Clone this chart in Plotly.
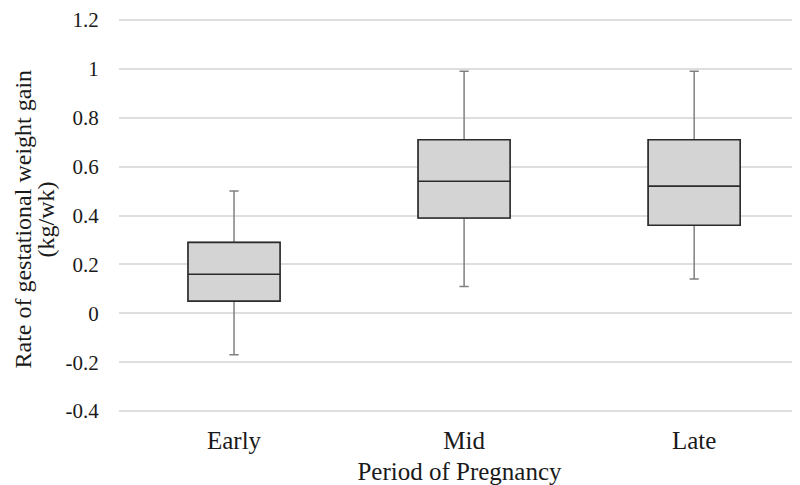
import plotly.graph_objects as go

categories = ["Early", "Mid", "Late"]
lower_whisker = [-0.17, 0.11, 0.14]
q1 = [0.05, 0.39, 0.36]
median = [0.16, 0.54, 0.52]
q3 = [0.29, 0.71, 0.71]
upper_whisker = [0.50, 0.99, 0.99]
y_ticks = [-0.4, -0.2, 0, 0.2, 0.4, 0.6, 0.8, 1, 1.2]
y_tick_text = ["-0.4", "-0.2", "0", "0.2", "0.4", "0.6", "0.8", "1", "1.2"]
y_title_lines = ["Rate of gestational weight gain", "(kg/wk)"]
x_title = "Period of Pregnancy"

FONT = "Liberation Serif, Times New Roman, serif"
TEXT = "#1a1a1a"

fig = go.Figure()
# whiskers (gray)
fig.add_trace(go.Box(
    x=categories, q1=q1, median=median, q3=q3,
    lowerfence=lower_whisker, upperfence=upper_whisker,
    width=0.4, whiskerwidth=0.1,
    fillcolor="#d4d4d4", line=dict(color="#808080", width=1.5),
    boxpoints=False, showlegend=False, hoverinfo="skip",
))
# boxes (dark outline)
fig.add_trace(go.Box(
    x=categories, q1=q1, median=median, q3=q3,
    lowerfence=q1, upperfence=q3,
    width=0.4, whiskerwidth=0,
    fillcolor="#d4d4d4", line=dict(color="#2b2b2b", width=1.6),
    boxpoints=False, showlegend=False,
))

fig.update_layout(
    width=792, height=477,
    margin=dict(l=111, r=0, t=7, b=69),
    paper_bgcolor="white", plot_bgcolor="white",
    boxmode="overlay",
    font=dict(family=FONT, color=TEXT),
    xaxis=dict(
        range=[-0.5, 2.46], showgrid=False, zeroline=False, showline=False,
        tickfont=dict(size=25, family=FONT, color=TEXT),
        ticks="outside", ticklen=2, tickcolor="rgba(0,0,0,0)",
        title=dict(text=x_title, font=dict(size=25, family=FONT, color=TEXT), standoff=10),
    ),
    yaxis=dict(
        range=[-0.42, 1.22], tickvals=y_ticks, ticktext=y_tick_text,
        showgrid=True, gridcolor="#dedede", gridwidth=1.5,
        zeroline=False, showline=False,
        tickfont=dict(size=21, family=FONT, color=TEXT),
        ticks="outside", ticklen=15, tickcolor="rgba(0,0,0,0)",
    ),
)

for text, shift in zip(y_title_lines, [-97, -74]):
    fig.add_annotation(
        text=text, textangle=-90, xref="paper", yref="paper",
        x=0, y=0.5, xanchor="center", yanchor="middle",
        xshift=shift, yshift=-4, showarrow=False,
        font=dict(size=24, family=FONT, color=TEXT),
    )

fig.write_html("out.html")
